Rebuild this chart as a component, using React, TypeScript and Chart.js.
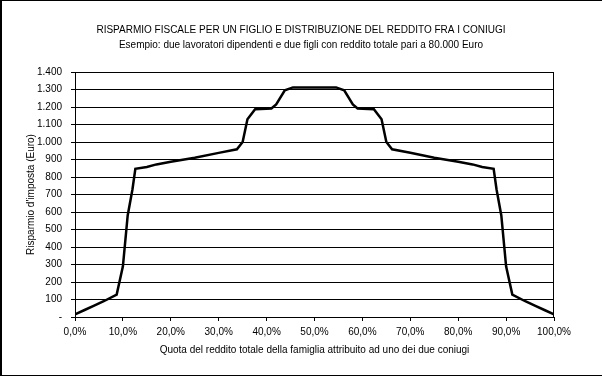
import React, { useEffect, useRef } from "react";
import { Chart, registerables } from "chart.js";

Chart.register(...registerables);

const TITLE_LINE_1 = "RISPARMIO FISCALE PER UN FIGLIO E DISTRIBUZIONE DEL REDDITO FRA I CONIUGI";
const TITLE_LINE_2 = "Esempio: due lavoratori dipendenti e due figli con reddito totale pari a 80.000 Euro";
const X_TITLE = "Quota del reddito totale della famiglia attribuito ad uno dei due coniugi";
const Y_TITLE = "Risparmio d'imposta (Euro)";

// share of family income attributed to one spouse (%)
const incomeShare = [
  0, 2, 4, 6, 8.7, 10, 11, 12, 12.6, 15, 17, 20, 25, 30, 33.8, 35, 36, 37.6, 41, 42, 43.8, 45.5,
  50,
  54.5, 56.2, 58, 59, 62.4, 64, 65, 66.2, 70, 75, 80, 83, 85, 87.4, 88, 89, 90, 91.3, 94, 96, 98, 100,
];
// tax saving (Euro)
const taxSaving = [
  15, 40, 65, 90, 128, 290, 580, 730, 847, 857, 872, 887, 910, 938, 958, 1000, 1130, 1187, 1192, 1215, 1295, 1312,
  1312,
  1312, 1295, 1215, 1192, 1187, 1130, 1000, 958, 938, 910, 887, 872, 857, 847, 730, 580, 290, 128, 90, 65, 40, 15,
];

const xTicks = [0, 10, 20, 30, 40, 50, 60, 70, 80, 90, 100];
const yMax = 1400;
const yStep = 100;

const FONT = "'Liberation Sans', Arial, sans-serif";

export default function App() {
  const ref = useRef<HTMLCanvasElement | null>(null);

  useEffect(() => {
    document.body.style.margin = "0";
    const canvas = ref.current;
    if (!canvas) return;

    const decor = {
      id: "decor",
      afterDraw(chart: any) {
        const { ctx, chartArea } = chart;
        ctx.save();
        // plot border
        ctx.strokeStyle = "#000";
        ctx.lineWidth = 1;
        ctx.strokeRect(
          Math.round(chartArea.left) + 0.5,
          Math.round(chartArea.top) + 0.5,
          Math.round(chartArea.right - chartArea.left) - 1,
          Math.round(chartArea.bottom - chartArea.top)
        );
        // outer frame
        ctx.fillStyle = "#000";
        ctx.fillRect(0, 0, 602, 1);
        ctx.fillRect(0, 0, 2, 376);
        ctx.fillRect(0, 375, 602, 1);
        // titles
        ctx.font = `10px ${FONT}`;
        ctx.textAlign = "center";
        ctx.textBaseline = "middle";
        ctx.fillText(TITLE_LINE_1, 301, 30);
        ctx.fillText(TITLE_LINE_2, 301, 45);
        ctx.restore();
      },
    };

    const chart = new Chart(canvas, {
      type: "line",
      data: {
        datasets: [
          {
            data: incomeShare.map((x, i) => ({ x, y: taxSaving[i] })),
            borderColor: "#000",
            borderWidth: 2.5,
            pointRadius: 0,
            tension: 0,
            fill: false,
          },
        ],
      },
      options: {
        animation: false,
        responsive: false,
        devicePixelRatio: 1,
        layout: { padding: { left: 0, right: 48, top: 72, bottom: 0 } },
        plugins: { legend: { display: false }, title: { display: false }, tooltip: { enabled: false } },
        scales: {
          x: {
            type: "linear",
            min: 0,
            max: 100,
            afterBuildTicks: (scale: any) => {
              scale.ticks = xTicks.map((v) => ({ value: v }));
            },
            afterFit: (scale: any) => {
              scale.height = 59;
            },
            ticks: {
              color: "#000",
              font: { family: FONT, size: 10 },
              padding: 5,
              maxRotation: 0,
              callback: (v: any) => Number(v).toFixed(1).replace(".", ",") + "%",
            },
            grid: { drawOnChartArea: false, drawTicks: true, tickLength: 4, color: "#000" },
            border: { color: "#000" },
            title: {
              display: true,
              text: X_TITLE,
              color: "#000",
              font: { family: FONT, size: 10 },
              padding: { top: 0, bottom: 20 },
            },
          },
          y: {
            min: 0,
            max: yMax,
            afterFit: (scale: any) => {
              scale.width = 75;
            },
            ticks: {
              stepSize: yStep,
              color: "#000",
              font: { family: FONT, size: 10 },
              padding: 9,
              callback: (v: any) => (Number(v) === 0 ? "-" : Number(v).toLocaleString("de-DE")),
            },
            grid: { drawOnChartArea: true, drawTicks: true, tickLength: 4, color: "#000", lineWidth: 1 },
            border: { color: "#000" },
            title: {
              display: true,
              text: Y_TITLE,
              color: "#000",
              font: { family: FONT, size: 10 },
              padding: { top: 25, bottom: 25 },
            },
          },
        },
      },
      plugins: [decor],
    });

    return () => chart.destroy();
  }, []);

  return <canvas ref={ref} width={602} height={376} style={{ display: "block" }} />;
}
